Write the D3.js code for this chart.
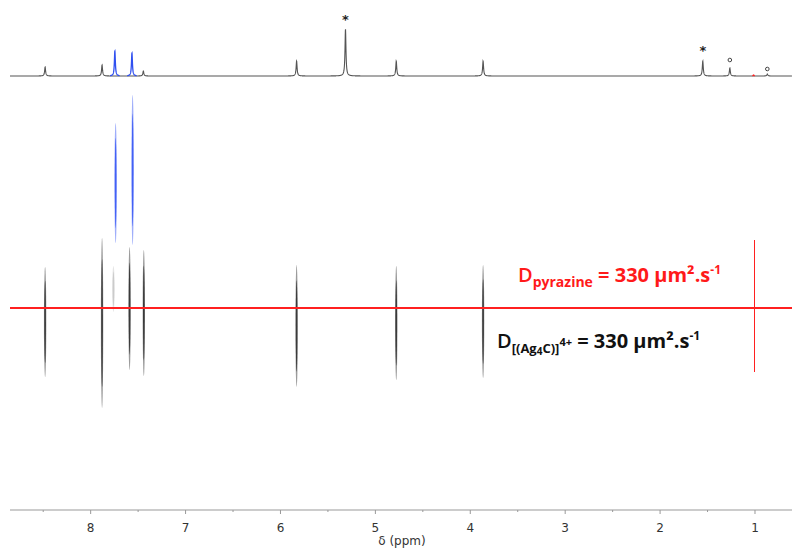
<!DOCTYPE html>
<html><head><meta charset="utf-8">
<script src="https://cdn.jsdelivr.net/npm/d3@7"></script>
<style>html,body{margin:0;padding:0;background:#fff}svg{display:block}</style>
</head><body>
<script>
// ---- data ----
const ppmDomain = [8.85, 0.61];
const axisTicks = [8, 7, 6, 5, 4, 3, 2, 1];
const axisLabel = "δ (ppm)";
// 1D spectrum peaks
const peakPpm   = [8.48, 7.88, 7.745, 7.565, 7.445, 5.83, 5.315, 4.78, 3.865, 1.55, 1.265, 1.015, 0.87];
const peakInt   = [9,    11,   25,    23,    5,     15,   47,    15,   15,    15,   8,     1,     2];
const peakColor = ["k",  "k",  "b",   "b",   "k",   "k",  "k",   "k",  "k",   "k",  "k",   "r",   "k"];
// annotation marks above 1D peaks
const markPpm = [5.315, 1.55, 1.265, 0.87];
const markInt = [59, 28, 16, 7];
const markSym = ["*", "*", "o", "o"];
// DOSY contours: ppm, logD top, logD bottom
const cPpm   = [8.48,  7.88,  7.76,  7.59,  7.44,  5.83,  4.78,  3.865, 7.737,  7.558];
const cTop   = [-9.685,-9.83, -9.69, -9.785,-9.77, -9.695,-9.69, -9.695,-10.405,-10.545];
const cBot   = [-9.135,-8.98, -9.46, -9.17, -9.14, -9.085,-9.12, -9.13, -9.805, -9.795];
const cColor = ["k",   "k",   "g",   "k",   "k",   "k",   "k",   "k",   "b",    "b"];
// pyrazine reference
const pyrLogD = -9.48;            // D = 330 µm²/s
const pyrPpm = 1.015;
const pyrTop = -9.82, pyrBot = -9.16;

// ---- chart ----
const W = 792, H = 548;
const colors = {k: "#555", b: "#3050f0", r: "#ff2020", g: "#bbb"};
const svg = d3.select("body").append("svg").attr("width", W).attr("height", H)
  .style("font-family", "'DejaVu Sans', Verdana, sans-serif");

const x = d3.scaleLinear().domain(ppmDomain).range([10, 792]);
const yI = d3.scaleLinear().domain([0, 50]).range([76, 26]);
const yD = d3.scaleLinear().domain([-10.5, -8.5]).range([104, 504]);

// spectrum line via Lorentzian lineshapes of the read peaks
const gamma = 0.006;
function spec(p, idxs) {
  let s = 0;
  for (const i of idxs) {
    const d = (p - peakPpm[i]) / gamma;
    s += peakInt[i] / (1 + d * d);
  }
  return s;
}
const step = 0.0015;
const allIdx = peakPpm.map((_, i) => i);
const kIdx = allIdx.filter(i => peakColor[i] === "k");
const pts = d3.range(ppmDomain[0], ppmDomain[1], -step).map(p => [p, spec(p, kIdx)]);
const line = d3.line().x(d => x(d[0])).y(d => yI(d[1]));
svg.append("path").datum(pts).attr("d", line)
  .attr("fill", "none").attr("stroke", colors.k).attr("stroke-width", 1.1);

allIdx.filter(i => peakColor[i] !== "k").forEach(i => {
  const w = peakColor[i] === "r" ? 0.012 : 0.05;
  const seg = d3.range(peakPpm[i] + w, peakPpm[i] - w, -step / 2).map(p => [p, spec(p, [i])]);
  svg.append("path").datum(seg).attr("d", line)
    .attr("fill", "none").attr("stroke", colors[peakColor[i]]).attr("stroke-width", 1.3);
});

// marks
markPpm.forEach((p, i) => {
  if (markSym[i] === "*") {
    svg.append("text").attr("x", x(p)).attr("y", yI(markInt[i]) + 7)
      .attr("text-anchor", "middle").attr("font-size", 13).attr("font-weight", "bold")
      .attr("fill", "#222").text("*");
  } else {
    svg.append("circle").attr("cx", x(p)).attr("cy", yI(markInt[i]))
      .attr("r", 1.8).attr("fill", "none").attr("stroke", "#444").attr("stroke-width", 1);
  }
});

// contours
cPpm.forEach((p, i) => {
  const cy = (yD(cTop[i]) + yD(cBot[i])) / 2;
  const ry = (yD(cBot[i]) - yD(cTop[i])) / 2;
  const col = cColor[i] === "b" ? "#2a4cf5" : cColor[i] === "g" ? "#c4c4c4" : "#222";
  svg.append("ellipse").attr("cx", x(p)).attr("cy", cy).attr("rx", 1.2).attr("ry", ry)
    .attr("fill", col).attr("opacity", 0.45);
  svg.append("ellipse").attr("cx", x(p)).attr("cy", cy).attr("rx", 0.8).attr("ry", ry * 0.75)
    .attr("fill", col).attr("opacity", 0.8);
});

// pyrazine lines
svg.append("line").attr("x1", 10).attr("x2", 792).attr("y1", yD(pyrLogD)).attr("y2", yD(pyrLogD))
  .attr("stroke", "#ff2020").attr("stroke-width", 2);
const px = Math.round(x(pyrPpm)) + 0.5;
svg.append("line").attr("x1", px).attr("x2", px).attr("y1", yD(pyrTop)).attr("y2", yD(pyrBot))
  .attr("stroke", "#ff2020").attr("stroke-width", 1);

// labels
const lf = "'Open Sans', Lato, sans-serif";
const t1 = svg.append("text").attr("x", 518).attr("y", 282).attr("fill", "#ff1a1a")
  .attr("font-family", lf).attr("font-size", 20).attr("font-weight", "bold");
t1.append("tspan").text("D").attr("font-weight", "600");
t1.append("tspan").text("pyrazine").attr("font-size", 14).attr("dy", 5);
t1.append("tspan").text(" = 330 µm²").attr("dy", -5);
t1.append("tspan").text(".s");
t1.append("tspan").text("-1").attr("font-size", 12).attr("dy", -8);

const t2 = svg.append("text").attr("x", 497).attr("y", 348).attr("fill", "#111")
  .attr("font-family", lf).attr("font-size", 20).attr("font-weight", "bold");
t2.append("tspan").text("D").attr("font-weight", "600");
t2.append("tspan").text("[(Ag").attr("font-size", 13).attr("dy", 5);
t2.append("tspan").text("4").attr("font-size", 10).attr("dy", 2);
t2.append("tspan").text("C)]").attr("font-size", 13).attr("dy", -2);
t2.append("tspan").text("4+").attr("font-size", 11).attr("dy", -7);
t2.append("tspan").text(" = 330 µm²").attr("dy", 2);
t2.append("tspan").text(".s");
t2.append("tspan").text("-1").attr("font-size", 12).attr("dy", -8);

// axis
const ax = svg.append("g").attr("transform", "translate(0,510)");
ax.append("line").attr("x1", 10).attr("x2", 792).attr("stroke", "#999").attr("stroke-width", 1.2);
const minor = axisTicks.map(t => t + 0.5);
ax.selectAll("line.mi").data(minor).enter().append("line")
  .attr("x1", d => x(d)).attr("x2", d => x(d)).attr("y1", 0).attr("y2", 2).attr("stroke", "#999");
ax.selectAll("line.ma").data(axisTicks).enter().append("line")
  .attr("x1", d => x(d)).attr("x2", d => x(d)).attr("y1", 0).attr("y2", 4).attr("stroke", "#999");
ax.selectAll("text").data(axisTicks).enter().append("text")
  .attr("x", d => x(d)).attr("y", 22).attr("text-anchor", "middle").attr("font-size", 12)
  .attr("fill", "#333").text(d => d);
svg.append("text").attr("x", 402).attr("y", 545).attr("text-anchor", "middle")
  .attr("font-size", 12).attr("fill", "#333").text(axisLabel);
</script>
</body></html>
